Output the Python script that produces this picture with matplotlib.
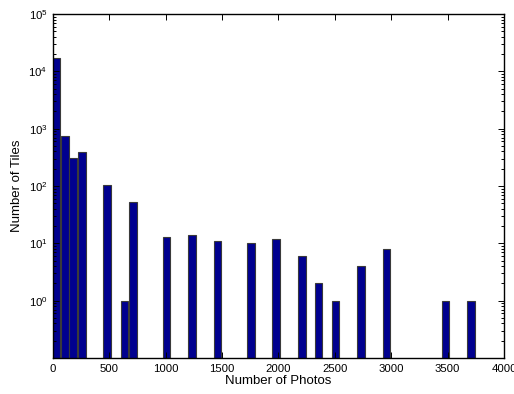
import numpy as np
import matplotlib
matplotlib.use('Agg')
import matplotlib.pyplot as plt
from matplotlib.ticker import LogLocator, LogFormatterMathtext, NullFormatter

plt.rcParams['font.family'] = 'Liberation Sans'
plt.rcParams['mathtext.fontset'] = 'custom'
plt.rcParams['mathtext.rm'] = 'Liberation Sans'
plt.rcParams['mathtext.it'] = 'Liberation Sans'

# Histogram of photos per tile (bin centres and counts)
bin_centers = [27, 106, 177, 257, 479, 634, 710, 1007, 1233, 1459, 1756,
               1978, 2208, 2355, 2506, 2732, 2958, 3481, 3707]
tile_counts = [17400, 746, 308, 387, 106, 1, 53, 13, 14, 11, 10,
               12, 6, 2, 1, 4, 8, 1, 1]

x_ticks = [0, 500, 1000, 1500, 2000, 2500, 3000, 3500, 4000]
y_ticks = [1, 10, 100, 1000, 1e4, 1e5]

fig = plt.figure(figsize=(5.14, 3.94), dpi=100)
ax = fig.add_axes([0.1031, 0.0914, 0.8774, 0.8731])

ax.bar(bin_centers, tile_counts, width=64, color='#00008f',
       edgecolor='#3a3a3a', linewidth=0.8, log=True)

ax.set_yscale('log')
ax.set_ylim(0.1, 1e5)
ax.set_xlim(0, 4000)
ax.set_xticks(x_ticks)
ax.set_yticks(y_ticks)
ax.yaxis.set_major_formatter(LogFormatterMathtext())
ax.yaxis.set_minor_locator(LogLocator(base=10, subs=np.arange(2, 10), numticks=20))
ax.yaxis.set_minor_formatter(NullFormatter())

ax.tick_params(which='both', direction='in', top=True, right=True,
               labelsize=8.2, width=0.7)
ax.tick_params(which='major', length=4, pad=4)
ax.tick_params(which='minor', length=2)
for s in ax.spines.values():
    s.set_linewidth(1.0)

ax.set_xlabel('Number of Photos', fontsize=9.5, labelpad=1)
ax.set_ylabel('Number of Tiles', fontsize=9.5, labelpad=4)

fig.savefig('out.png', dpi=100)
